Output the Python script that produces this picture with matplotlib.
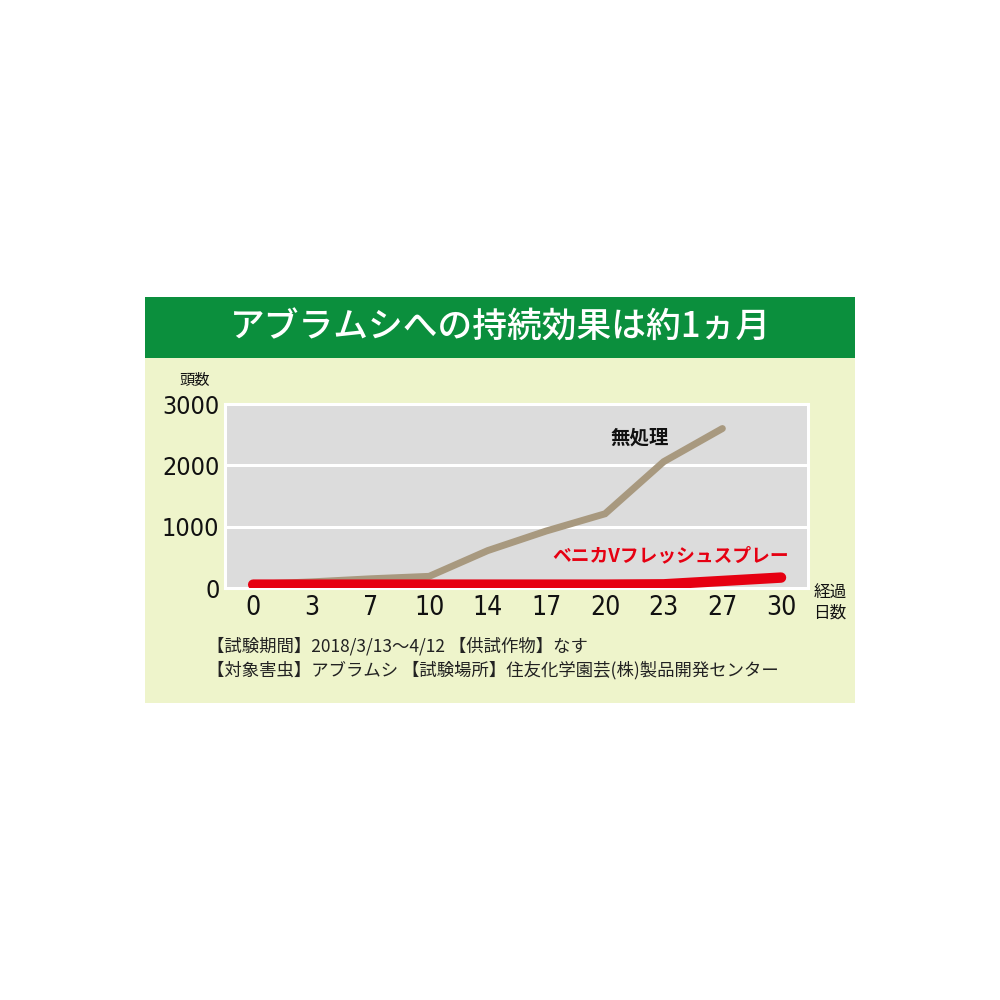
import matplotlib.pyplot as plt
from matplotlib.patches import Rectangle

days = ["0", "3", "7", "10", "14", "17", "20", "23", "27", "30"]
untreated = [60, 100, 150, 190, 610, 930, 1210, 2060, 2600]
benica = [55, 55, 55, 55, 55, 55, 55, 60, 115, 170]
y_ticks = [0, 1000, 2000, 3000]

title = "アブラムシへの持続効果は約1ヵ月"
note1 = "【試験期間】2018/3/13～4/12 【供試作物】なす"
note2 = "【対象害虫】アブラムシ 【試験場所】住友化学園芸(株)製品開発センター"

jp = ["Noto Sans CJK JP", "DejaVu Sans"]
plt.rcParams["font.family"] = jp

fig = plt.figure(figsize=(10, 10), dpi=100)
fig.patch.set_facecolor("white")

# パネル背景と見出し帯
fig.patches.append(Rectangle((0.145, 0.297), 0.71, 0.406, transform=fig.transFigure,
                             facecolor="#eef4cb", edgecolor="none", zorder=-2))
fig.patches.append(Rectangle((0.145, 0.642), 0.71, 0.061, transform=fig.transFigure,
                             facecolor="#0b8f3d", edgecolor="none", zorder=-1))
fig.text(0.5, 0.672, title, color="white", fontsize=25, fontweight="medium",
         ha="center", va="center")

ax = fig.add_axes([0.225, 0.412, 0.583, 0.184])
ax.set_zorder(1)
ax.set_facecolor("#dcdcdc")
x = list(range(len(days)))

ax.plot(x[:len(untreated)], untreated, color="#a8997f", linewidth=5,
        solid_capstyle="round", solid_joinstyle="miter", zorder=3)
ax.plot(x, benica, color="#e60012", linewidth=7.5,
        solid_capstyle="round", zorder=4)

ax.set_xlim(-0.48, 9.46)
ax.set_ylim(0, 3000)
ax.set_yticks(y_ticks)
ax.set_yticklabels([str(v) for v in y_ticks], fontfamily="DejaVu Sans",
                   fontstretch="condensed", fontsize=18)
ax.set_xticks(x)
ax.set_xticklabels(days, fontfamily="DejaVu Sans", fontstretch="condensed", fontsize=19)
ax.tick_params(length=0, pad=4, colors="#111111")
ax.tick_params(axis="x", pad=5)

ax.grid(axis="y", color="white", linewidth=2.2)
ax.set_axisbelow(True)
for s in ax.spines.values():
    s.set_color("white")
    s.set_linewidth(2.2)

ax.text(6.1, 2450, "無処理", fontsize=14, fontweight="bold", color="#111111",
        ha="left", va="center")
ax.text(5.1, 530, "ベニカVフレッシュスプレー", fontsize=13.5, fontweight="bold",
        color="#e60012", ha="left", va="center")

fig.text(0.195, 0.62, "頭数", fontsize=11, color="#111111", ha="center", va="center")
fig.text(0.830, 0.407, "経過", fontsize=12, color="#111111", ha="center", va="center")
fig.text(0.830, 0.387, "日数", fontsize=12, color="#111111", ha="center", va="center")

fig.text(0.207, 0.354, note1, fontsize=12.5, color="#222222", ha="left", va="center")
fig.text(0.207, 0.330, note2, fontsize=12.5, color="#222222", ha="left", va="center")

fig.savefig("out.png", dpi=100, facecolor="white")
